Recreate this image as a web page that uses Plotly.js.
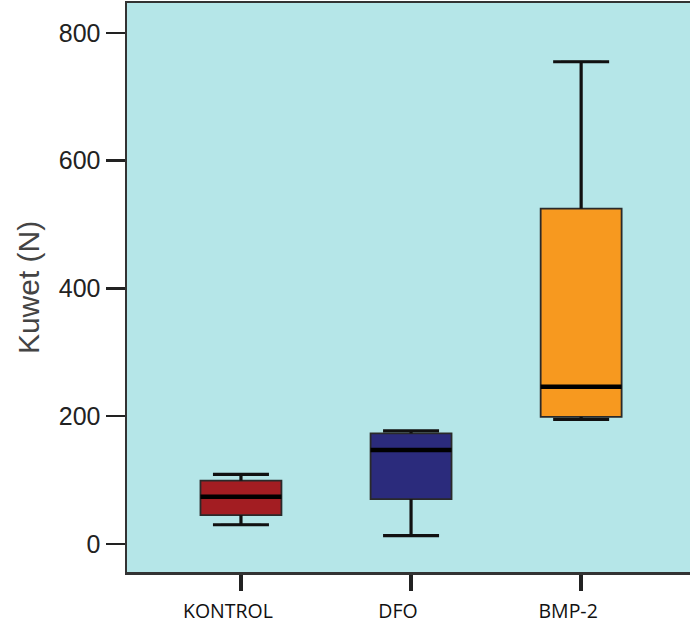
<!DOCTYPE html>
<html>
<head>
<meta charset="utf-8">
<script src="https://cdn.plot.ly/plotly-3.0.1.min.js"></script>
<style>html,body{margin:0;padding:0;background:#fff;}#chart{width:690px;height:630px;}</style>
</head>
<body>
<div id="chart"></div>
<script>
// Data
const categories = ["KONTROL", "DFO", "BMP-2"];
const lowerWhisker = [30, 13, 195];
const q1Values = [45, 70, 199];
const medianValues = [74, 147, 246];
const q3Values = [99, 173, 525];
const upperWhisker = [109, 177, 755];
const boxColors = ["#a31d22", "#2b2b7c", "#f7991f"];
const yTicks = [0, 200, 400, 600, 800];

const positions = categories.map((c, i) => i);
const boxWidth = 0.476;
const traces = [];

// Whisker stems (outside the boxes only)
const wx = [], wy = [];
positions.forEach((p, i) => {
  wx.push(p, p, null, p, p, null);
  wy.push(q3Values[i], upperWhisker[i], null, q1Values[i], lowerWhisker[i], null);
});
traces.push({
  type: "scatter", mode: "lines", x: wx, y: wy,
  line: {color: "#111", width: 3.2},
  hoverinfo: "skip", showlegend: false
});

// Boxes
categories.forEach((c, i) => {
  traces.push({
    type: "box", name: c,
    x: [positions[i]],
    q1: [q1Values[i]], median: [medianValues[i]], q3: [q3Values[i]],
    lowerfence: [lowerWhisker[i]], upperfence: [upperWhisker[i]],
    width: boxWidth, whiskerwidth: 0.5,
    fillcolor: boxColors[i],
    line: {color: "#2a2a2a", width: 1.8},
    showlegend: false
  });
});

// Whisker caps
traces.push({
  type: "scatter", mode: "markers",
  x: positions.concat(positions), y: upperWhisker.concat(lowerWhisker),
  marker: {symbol: "line-ew", size: 40, line: {color: "#111", width: 3.2}},
  hoverinfo: "skip", showlegend: false
});

// Thick median lines
traces.push({
  type: "scatter", mode: "markers",
  x: positions, y: medianValues,
  marker: {size: 0.1, color: "rgba(0,0,0,0)"},
  error_x: {type: "constant", value: boxWidth / 2, color: "#000", thickness: 4.5, width: 0},
  hoverinfo: "skip", showlegend: false
});

const layout = {
  width: 690, height: 630,
  margin: {l: 127, r: 0, t: 3, b: 58},
  paper_bgcolor: "#ffffff",
  plot_bgcolor: "#b5e6e8",
  showlegend: false,
  xaxis: {
    range: [-0.67, 2.64],
    tickmode: "array", tickvals: positions, ticktext: categories,
    showgrid: false, zeroline: false,
    showline: true, linecolor: "#333", linewidth: 2.5, mirror: true,
    ticks: "outside", ticklen: 16, tickwidth: 3.5, tickcolor: "#222",
    ticklabelshift: -13, ticklabelstandoff: 4,
    tickfont: {family: "Open Sans, Liberation Sans, sans-serif", size: 19.5, color: "#111"},
    automargin: false
  },
  yaxis: {
    range: [-44, 847],
    tickmode: "array", tickvals: yTicks,
    showgrid: false, zeroline: false,
    showline: true, linecolor: "#333", linewidth: 2.5,
    ticks: "outside", ticklen: 19, tickwidth: 2.5, tickcolor: "#222",
    tickfont: {family: "Liberation Sans, Arial, sans-serif", size: 25, color: "#222"},
    automargin: false
  },
  annotations: [{
    text: "Kuwet (N)", textangle: -90,
    xref: "paper", yref: "paper", x: -0.1758, y: 0.499,
    xanchor: "center", yanchor: "middle", showarrow: false,
    font: {family: "Liberation Sans, Arial, sans-serif", size: 30, color: "#444"}
  }]
};

Plotly.newPlot("chart", traces, layout, {staticPlot: true, displayModeBar: false});
</script>
</body>
</html>
